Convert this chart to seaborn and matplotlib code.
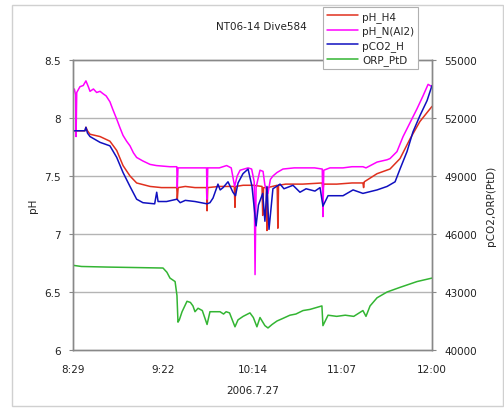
import matplotlib
matplotlib.use("Agg")
import matplotlib.pyplot as plt
import seaborn as sns
import numpy as np
import pandas as pd
from matplotlib.lines import Line2D
from matplotlib.patches import Rectangle

# ---- data (minutes after 8:29) ----
tick_minutes = [0, 52.75, 105.5, 158.25, 211]
tick_labels = ["8:29", "9:22", "10:14", "11:07", "12:00"]

ph_n_t = [0, 0.8, 1.5, 1.8, 2.2, 4.1, 6, 7.6, 9, 10, 12, 13.9, 15.9, 17.6, 19.5, 21.7, 23.5, 25.7,
          27.5, 29.4, 31.5, 33.5, 35.5, 37.4, 41, 45.3, 49, 52.9, 57, 61, 61.3, 61.7, 66, 71.7, 78.5,
          78.8, 79.2, 86, 90.3, 93, 95, 96.5, 98.2, 102.9, 105, 106.5, 107, 107.6, 109.9, 111.7,
          112.8, 114.6, 116, 117.5, 119.9, 123.4, 130, 135, 142, 146.5, 146.9, 147.4, 151, 158.7,
          164, 170.4, 172.2, 178.7, 184.6, 186.3, 190.4, 194, 198.1, 202.2, 205.7, 208.7, 211]
ph_n_v = [8.22, 8.25, 8.20, 7.84, 8.22, 8.27, 8.28, 8.32, 8.27, 8.23, 8.25, 8.22, 8.23, 8.21, 8.19,
          8.14, 8.07, 7.99, 7.92, 7.85, 7.80, 7.76, 7.70, 7.66, 7.63, 7.60, 7.59, 7.585, 7.58, 7.58,
          7.40, 7.57, 7.57, 7.57, 7.57, 7.30, 7.57, 7.57, 7.59, 7.57, 7.41, 7.50, 7.55, 7.57, 7.56,
          7.45, 6.65, 7.40, 7.55, 7.54, 7.42, 7.35, 7.47, 7.50, 7.53, 7.56, 7.57, 7.57, 7.57, 7.56,
          7.15, 7.55, 7.57, 7.57, 7.58, 7.58, 7.57, 7.62, 7.64, 7.65, 7.71, 7.84, 7.96, 8.08, 8.19,
          8.29, 8.27]

ph_h4_t = [0, 7, 7.6, 8.5, 10, 15.9, 21.7, 25.7, 29.4, 33.5, 37.4, 45.3, 52, 61, 61.3, 61.8, 66,
           71.7, 78.5, 78.8, 79.2, 86, 94.8, 95.2, 95.6, 100, 106, 111.1, 111.5, 112, 113.6, 114,
           114.4, 120, 120.4, 120.8, 125, 135, 146.5, 146.9, 147.3, 155, 164, 170.4, 170.8, 171.2,
           178.7, 186.3, 192.2, 198.1, 203.9, 211]
ph_h4_v = [7.89, 7.89, 7.92, 7.89, 7.86, 7.84, 7.80, 7.72, 7.59, 7.50, 7.44, 7.41, 7.40, 7.40,
           7.30, 7.40, 7.41, 7.40, 7.40, 7.20, 7.40, 7.41, 7.41, 7.23, 7.41, 7.42, 7.42, 7.41, 7.16,
           7.40, 7.40, 7.03, 7.40, 7.42, 7.05, 7.42, 7.43, 7.43, 7.44, 7.37, 7.43, 7.43, 7.44, 7.44,
           7.40, 7.45, 7.52, 7.56, 7.65, 7.82, 7.97, 8.10]

pco2_t = [0, 7, 7.6, 8.5, 10, 15.9, 21.7, 25.7, 29.4, 33.5, 37.4, 41.1, 48, 49.2, 50, 55, 61.1, 63,
          66, 71.7, 78.8, 80.5, 82.3, 85.2, 86.5, 88.2, 91.1, 94, 95.5, 97, 99.9, 102.9, 105.2,
          107.6, 109, 111.5, 112.8, 114, 115.2, 117.5, 121.7, 124, 129.3, 133.4, 137, 142.2, 145.2,
          146.9, 149.9, 158.7, 164.6, 170.4, 178.7, 184.6, 189.3, 192.2, 196.3, 199.8, 203.9,
          208.1, 211]
pco2_v = [51340, 51340, 51520, 51220, 51040, 50740, 50560, 49960, 49180, 48460, 47800, 47620,
          47560, 48160, 47680, 47680, 47800, 47620, 47740, 47680, 47560, 47620, 47860, 48580,
          48280, 48400, 48700, 48160, 47980, 48640, 49120, 49360, 48460, 46420, 47500, 48100,
          46660, 48460, 46240, 48340, 48580, 48340, 48520, 48160, 48340, 48220, 48400, 47440,
          47980, 47980, 48280, 48100, 48280, 48460, 48700, 49360, 50260, 51280, 52120, 52900,
          53680]

orp_t = [0, 5, 20, 40, 52.9, 55.2, 57, 60, 61.1, 61.7, 62.5, 64.1, 67, 69, 70.5, 71.7, 73.5, 76,
         78.8, 80.5, 86.4, 88.5, 90, 92, 95.2, 97, 100, 104, 106, 108.1, 109.9, 112.8, 114.6, 117,
         119.9, 123, 127.5, 131, 135.2, 139.3, 146.3, 146.9, 149.9, 155, 160, 165, 170.4, 172.2,
         174.6, 178.7, 184.6, 192.2, 202.2, 211]
orp_v = [44380, 44320, 44290, 44260, 44240, 44020, 43720, 43540, 42820, 41440, 41560, 41980,
         42520, 42460, 42280, 41980, 42160, 42040, 41320, 41980, 41980, 41860, 41980, 41920,
         41200, 41560, 41740, 41920, 41680, 41200, 41680, 41260, 41140, 41320, 41500, 41620,
         41800, 41860, 42040, 42100, 42280, 41260, 41800, 41740, 41800, 41740, 42040, 41740,
         42280, 42700, 43000, 43240, 43540, 43720]

sns.set_theme(style="white")
plt.rcParams["font.family"] = ["DejaVu Sans"]
FS = 7.5

fig = plt.figure(figsize=(5.04, 4.10), dpi=100)
fig.patch.set_facecolor("white")
fig.patches.append(Rectangle((12 / 504, 3 / 410), 491 / 504, 401 / 410, transform=fig.transFigure,
                             fill=False, edgecolor="#d0d0d0", linewidth=1.0))

ax = fig.add_axes([73 / 504, 1 - 351 / 410, 359 / 504, 290 / 410])
ax2 = ax.twinx()

red, mag, blue, green = "#e0301e", "#ff00ff", "#1010c0", "#33b533"

sns.lineplot(x=ph_h4_t, y=ph_h4_v, ax=ax, color=red, lw=1.1, sort=False, estimator=None)
sns.lineplot(x=ph_n_t, y=ph_n_v, ax=ax, color=mag, lw=1.1, sort=False, estimator=None)
sns.lineplot(x=pco2_t, y=pco2_v, ax=ax2, color=blue, lw=1.1, sort=False, estimator=None)
sns.lineplot(x=orp_t, y=orp_v, ax=ax2, color=green, lw=1.1, sort=False, estimator=None)

ax.set_xlim(0, 211)
ax.set_ylim(6, 8.5)
ax2.set_ylim(40000, 55000)
ax.set_yticks([6, 6.5, 7, 7.5, 8, 8.5])
ax.set_yticklabels(["6", "6.5", "7", "7.5", "8", "8.5"])
ax2.set_yticks([40000, 43000, 46000, 49000, 52000, 55000])
ax.set_xticks(tick_minutes)
ax.set_xticklabels(tick_labels)

for y in [6.5, 7, 7.5, 8]:
    ax.axhline(y, color="#b4b4b4", lw=1.0, zorder=0)

for a in (ax, ax2):
    for s in a.spines.values():
        s.set_color("#888888")
        s.set_linewidth(1.0)
    a.tick_params(labelsize=FS, colors="#222222", length=3, width=0.8, direction="out", pad=6)
ax.tick_params(axis="both", color="#888888")
ax2.tick_params(axis="y", color="#888888")
ax.tick_params(axis="x", pad=7)

ax.set_xlabel("2006.7.27", fontsize=FS, color="#222222", labelpad=8)
ax.set_ylabel("pH", fontsize=FS, color="#222222", labelpad=4)
ax2.set_ylabel("pCO2,ORP(PtD)", fontsize=FS, color="#222222", labelpad=6)

fig.text(261 / 504, 1 - 27 / 410, "NT06-14 Dive584", ha="center", va="center",
         fontsize=FS, color="#222222")

handles = [Line2D([], [], color=c, lw=1.1) for c in (red, mag, blue, green)]
labels = ["pH_H4", "pH_N(AI2)", "pCO2_H", "ORP_PtD"]
leg = fig.legend(handles, labels, loc="upper left", bbox_to_anchor=(323 / 504, 1 - 8 / 410),
                 fontsize=FS, frameon=True, fancybox=False, framealpha=1, edgecolor="#b0b0b0",
                 handlelength=3.0, handletextpad=0.4, borderpad=0.35, labelspacing=0.35,
                 borderaxespad=0)
leg.get_frame().set_linewidth(0.8)
leg.set_zorder(10)

fig.savefig("out.png", dpi=100)
